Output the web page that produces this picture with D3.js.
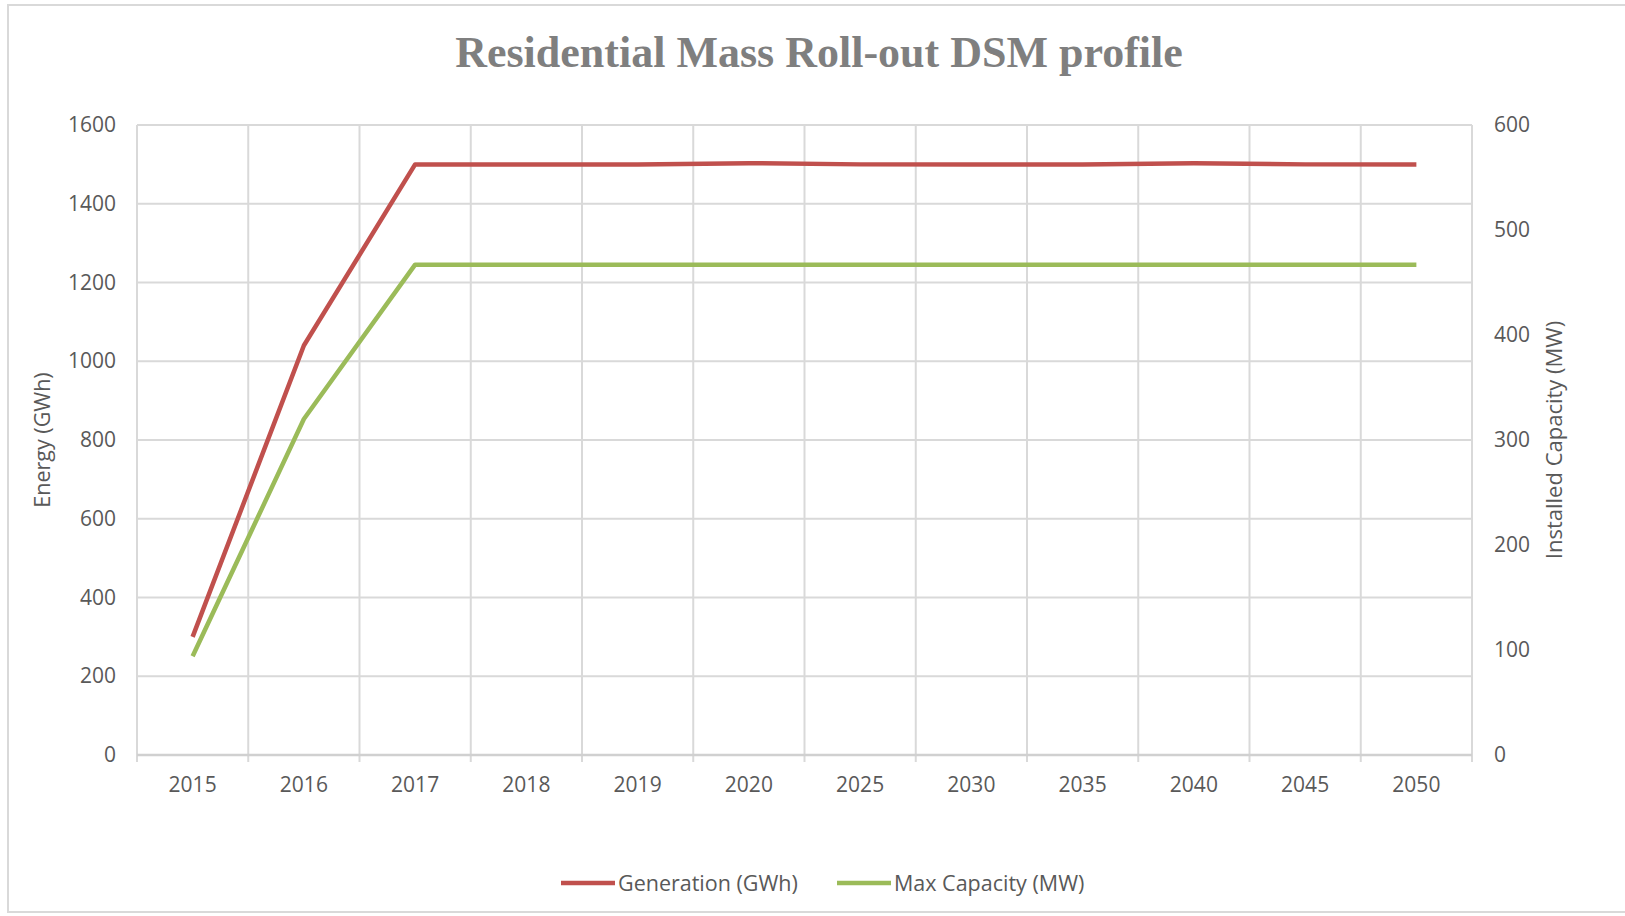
<!DOCTYPE html>
<html>
<head>
<meta charset="utf-8">
<script src="https://cdn.jsdelivr.net/npm/d3@7"></script>
<style>
  body { margin: 0; background: #fff; }
  svg { display: block; }
</style>
</head>
<body>
<div id="chart"></div>
<script>
// chart data
const years = ["2015", "2016", "2017", "2018", "2019", "2020", "2025", "2030", "2035", "2040", "2045", "2050"];
const generation = [300, 1040, 1500, 1500, 1500, 1503, 1500, 1500, 1500, 1503, 1500, 1500];
const maxCapacity = [94, 320, 467, 467, 467, 467, 467, 467, 467, 467, 467, 467];
const leftTicks = [0, 200, 400, 600, 800, 1000, 1200, 1400, 1600];
const rightTicks = [0, 100, 200, 300, 400, 500, 600];

const width = 1625, height = 916;
const margin = { top: 125, bottom: 161, left: 137, right: 153 };
const gridColor = "#d9d9d9";
const textColor = "#595959";
const font = "'Open Sans', sans-serif";

const svg = d3.select("#chart").append("svg")
  .attr("width", width)
  .attr("height", height);

// outer frame
svg.append("rect")
  .attr("x", 8).attr("y", 5)
  .attr("width", width + 20).attr("height", 907)
  .attr("fill", "none")
  .attr("stroke", gridColor)
  .attr("stroke-width", 2);

const x = d3.scaleBand()
  .domain(years)
  .range([margin.left, width - margin.right]);

const yLeft = d3.scaleLinear()
  .domain([0, 1600])
  .range([height - margin.bottom, margin.top]);

const yRight = d3.scaleLinear()
  .domain([0, 600])
  .range([height - margin.bottom, margin.top]);

// horizontal gridlines
svg.append("g")
  .selectAll("line")
  .data(leftTicks)
  .enter()
  .append("line")
  .attr("x1", x.range()[0])
  .attr("x2", x.range()[1])
  .attr("y1", d => yLeft(d))
  .attr("y2", d => yLeft(d))
  .attr("stroke", gridColor)
  .attr("stroke-width", 2);

// vertical gridlines at category edges (with small ticks below axis)
const edges = years.map(d => x(d)).concat([x.range()[1]]);
svg.append("g")
  .selectAll("line")
  .data(edges)
  .enter()
  .append("line")
  .attr("x1", d => d)
  .attr("x2", d => d)
  .attr("y1", yLeft(1600))
  .attr("y2", yLeft(0) + 7)
  .attr("stroke", gridColor)
  .attr("stroke-width", 2);

// x axis line
svg.append("line")
  .attr("x1", x.range()[0]).attr("x2", x.range()[1])
  .attr("y1", yLeft(0)).attr("y2", yLeft(0))
  .attr("stroke", "#d0d0d0")
  .attr("stroke-width", 2.5);

// axes (labels only)
const xAxis = svg.append("g")
  .attr("transform", `translate(0, ${yLeft(0)})`)
  .call(d3.axisBottom(x).tickSize(0).tickPadding(22));

const leftAxis = svg.append("g")
  .attr("transform", `translate(${margin.left}, 0)`)
  .call(d3.axisLeft(yLeft).tickValues(leftTicks).tickFormat(d3.format("d")).tickSize(0).tickPadding(21));

const rightAxis = svg.append("g")
  .attr("transform", `translate(${width - margin.right}, 0)`)
  .call(d3.axisRight(yRight).tickValues(rightTicks).tickFormat(d3.format("d")).tickSize(0).tickPadding(22));

[xAxis, leftAxis, rightAxis].forEach(g => {
  g.select(".domain").remove();
  g.selectAll("text")
    .attr("font-family", font)
    .attr("font-size", "21px")
    .attr("fill", textColor);
});

// lines
const genLine = d3.line()
  .x((d, i) => x(years[i]) + x.bandwidth() / 2)
  .y(d => yLeft(d));

const capLine = d3.line()
  .x((d, i) => x(years[i]) + x.bandwidth() / 2)
  .y(d => yRight(d));

svg.append("path")
  .datum(generation)
  .attr("d", genLine)
  .attr("fill", "none")
  .attr("stroke", "#c0504d")
  .attr("stroke-width", 4.5)
  .attr("stroke-linejoin", "round");

svg.append("path")
  .datum(maxCapacity)
  .attr("d", capLine)
  .attr("fill", "none")
  .attr("stroke", "#9bbb59")
  .attr("stroke-width", 4.5)
  .attr("stroke-linejoin", "round");

// title
svg.append("text")
  .text("Residential Mass Roll-out DSM profile")
  .attr("x", 819)
  .attr("y", 67)
  .attr("text-anchor", "middle")
  .attr("font-family", "'Liberation Serif', 'DejaVu Serif', serif")
  .attr("font-weight", "bold")
  .attr("font-size", "44px")
  .attr("fill", "#7f7f7f");

// axis titles
svg.append("text")
  .text("Energy (GWh)")
  .attr("transform", `translate(50, ${(yLeft(0) + yLeft(1600)) / 2}) rotate(-90)`)
  .attr("text-anchor", "middle")
  .attr("font-family", font)
  .attr("font-size", "21.5px")
  .attr("fill", textColor);

svg.append("text")
  .text("Installed Capacity (MW)")
  .attr("transform", `translate(1562, ${(yLeft(0) + yLeft(1600)) / 2}) rotate(-90)`)
  .attr("text-anchor", "middle")
  .attr("font-family", font)
  .attr("font-size", "22px")
  .attr("fill", textColor);

// legend
const legendItems = [
  { name: "Generation (GWh)", color: "#c0504d", x: 561 },
  { name: "Max Capacity (MW)", color: "#9bbb59", x: 837 }
];
const legend = svg.append("g");
legendItems.forEach(item => {
  legend.append("line")
    .attr("x1", item.x).attr("x2", item.x + 54)
    .attr("y1", 883).attr("y2", 883)
    .attr("stroke", item.color)
    .attr("stroke-width", 4.5);
  legend.append("text")
    .text(item.name)
    .attr("x", item.x + 57)
    .attr("y", 883)
    .attr("dy", "0.35em")
    .attr("font-family", font)
    .attr("font-size", "21.5px")
    .attr("fill", textColor);
});
</script>
</body>
</html>
